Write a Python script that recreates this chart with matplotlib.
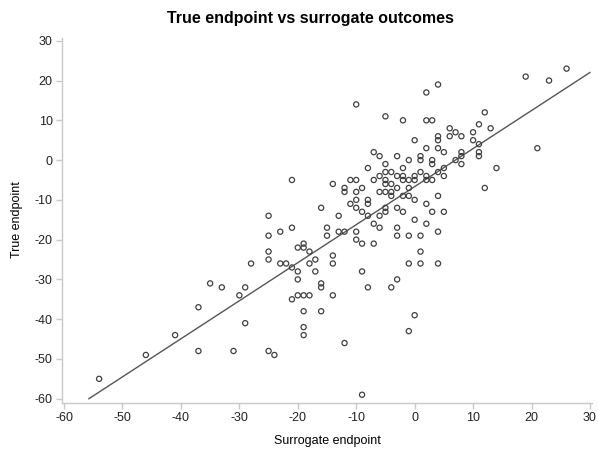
import numpy as np
import matplotlib.pyplot as plt

plt.rcParams["font.family"] = ["Liberation Sans", "DejaVu Sans"]
plt.rcParams["axes.unicode_minus"] = False

# surrogate endpoint (x) and true endpoint (y)
surrogate = [
    19, 23, 26, 21, 14, 12, 12, 13, 11, 10, 10, 11, 11, 11, 8, 7, 6, 6, 8, 8, 7, 8,
    5, 4, 4, 4, 2, 4, 2, 2, 3, 0, -2, -5, -10,
    -7, -6, -3, -1, 1, 1, 3, 3, 5, 4, 5, 2, 1, 0, 2, 3, 0, -1, -2, -2, -3, -4, -5,
    -8, -6, -5, -5, -5, -4, -3, -4, -5, -6, -4, -2, -1, -1, 0, 2, 4, 3, 5, 0, 2,
    -7, -2, -3, -2, -5, -5, -6, -7, -6, -3,
    -21, -14, -11, -10, -12, -12, -10, -9, -10, -11, -10, -9, -8, -8, -8, -16, -13,
    -15, -13, -12,
    -25, -23, -21, -25, -20, -25, -25, -28, -23, -22, -21, -20, -15, -10, -10, -9,
    -7, -3, -19, -19, -18, -14, -14, -17, -18, -17, -20, -9, -16, -16, -8, -4, -3,
    -21, -20, -19, -18, -14, -19, -16, -19, -19, -12, -9, -1, 0, -1, 1, 4, 1, -1,
    1, 4,
    -54, -46, -41, -37, -37, -35, -33, -31, -30, -29, -29, -25, -24,
]
true_end = [
    21, 20, 23, 3, -2, -7, 12, 8, 9, 7, 5, 4, 2, 1, 6, 7, 8, 6, 2, 1, 0, -1,
    2, 6, 5, 3, 3, 19, 17, 10, 10, 5, 10, 11, 14,
    2, 1, 1, 0, 1, 0, 0, -1, -2, -3, -4, -4, -3, -4, -5, -5, -5, -5, -4, -2, -4, -3, -1,
    -2, -4, -3, -5, -6, -6, -7, -8, -8, -8, -9, -9, -9, -7, -10, -11, -9, -13, -13, -15, -16,
    -5, -5, -12, -13, -12, -13, -14, -16, -17, -17,
    -5, -6, -5, -5, -7, -8, -8, -7, -10, -11, -12, -13, -10, -11, -14, -12, -14,
    -17, -18, -18,
    -14, -18, -17, -19, -22, -23, -25, -26, -26, -26, -27, -28, -19, -18, -20, -21,
    -21, -19, -21, -22, -23, -24, -26, -25, -26, -28, -30, -28, -31, -32, -32, -32, -30,
    -35, -34, -34, -34, -34, -38, -38, -42, -44, -46, -59, -43, -39, -26, -26, -26, -23, -19,
    -19, -18,
    -55, -49, -44, -37, -48, -31, -32, -48, -34, -32, -41, -48, -49,
]

x = np.array(surrogate, dtype=float)
y = np.array(true_end, dtype=float)

fig = plt.figure(figsize=(5.98, 4.5), dpi=100)
ax = fig.add_axes([62.3 / 598, 1 - 402.7 / 450, (591.7 - 62.3) / 598, (402.7 - 38) / 450])

ax.scatter(x, y, s=14, facecolors="none", edgecolors="#404040", linewidths=0.9, zorder=3)

# least squares line, clipped at the bottom of the axis like the original
m, b = np.polyfit(x, y, 1)
x0 = (-60 - b) / m
xs = np.array([x0, 30])
ax.plot(xs, m * xs + b, color="#555555", lw=1.0, zorder=2)

ax.set_xlim(-60.3, 30.3)
ax.set_ylim(-61, 30.7)
ax.set_xticks(range(-60, 31, 10))
ax.set_yticks(range(-60, 31, 10))

for s in ["top", "right"]:
    ax.spines[s].set_visible(False)
for s in ["left", "bottom"]:
    ax.spines[s].set_color("#c8c8c8")
    ax.spines[s].set_linewidth(1.0)
ax.tick_params(colors="#c8c8c8", labelcolor="#222222", labelsize=9, length=4, width=1, pad=3)

fig.text(310 / 598, 1 - 18 / 450, "True endpoint vs surrogate outcomes",
         ha="center", va="center", fontsize=11.5, fontweight="bold")
fig.text(327 / 598, 1 - 441 / 450, "Surrogate endpoint", ha="center", va="center", fontsize=9)
fig.text(17 / 598, 1 - 220 / 450, "True endpoint", ha="center", va="center",
         rotation=90, fontsize=9)

fig.savefig("out.png", dpi=100)
